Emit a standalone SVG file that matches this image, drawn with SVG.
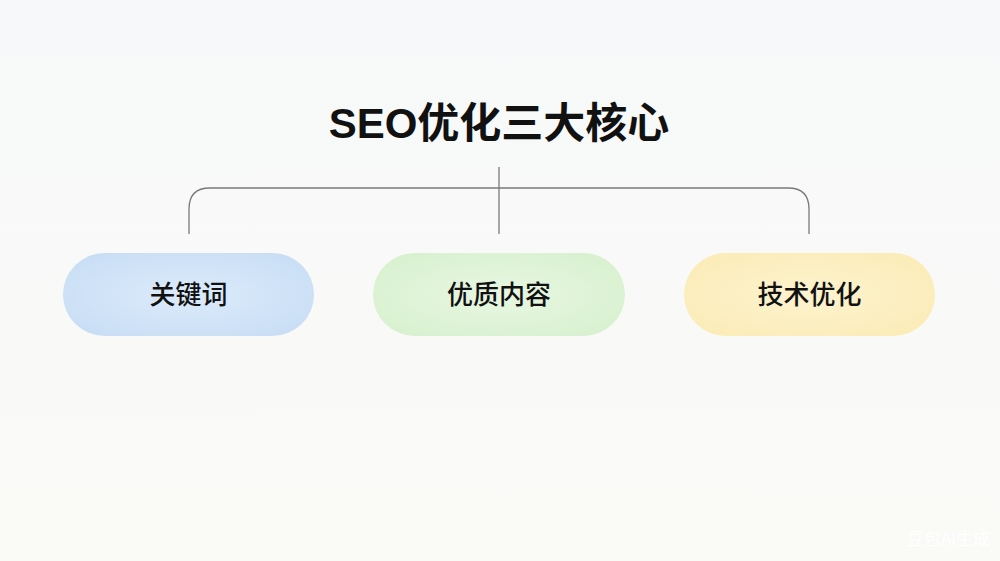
<svg xmlns="http://www.w3.org/2000/svg" width="1000" height="561" viewBox="0 0 1000 561">
<defs>
<style>
.t{font-family:"Noto Sans CJK SC","Liberation Sans",sans-serif;fill:#111;text-anchor:middle}
.title{font-family:"Liberation Sans","Noto Sans CJK SC",sans-serif;font-size:42px;font-weight:700}
.lbl{font-size:26px;font-weight:500}
.conn{fill:none;stroke:#7a7a7a;stroke-width:1.3}
</style>
<radialGradient id="gb" cx="50%" cy="50%" r="60%"><stop offset="0" stop-color="#dcebfb"/><stop offset="1" stop-color="#c9def5"/></radialGradient>
<radialGradient id="gg" cx="50%" cy="50%" r="60%"><stop offset="0" stop-color="#e8f7e2"/><stop offset="1" stop-color="#d9f1d0"/></radialGradient>
<radialGradient id="gy" cx="50%" cy="50%" r="60%"><stop offset="0" stop-color="#fdf3cf"/><stop offset="1" stop-color="#fbecb8"/></radialGradient>
<linearGradient id="bg" x1="0" y1="0" x2="0" y2="1"><stop offset="0" stop-color="#f7f8f9"/><stop offset="1" stop-color="#fafbf7"/></linearGradient>
</defs>
<rect width="1000" height="561" fill="url(#bg)"/>
<text class="t title" x="499" y="138">SEO优化三大核心</text>
<g id="connectors">
<path class="conn" d="M499 167 V234"/>
<path class="conn" d="M189 234 V209 Q189 188 210 188 H788 Q809 188 809 209 V234"/>
</g>
<g id="n1"><rect x="63" y="253" width="251" height="83" rx="41.5" fill="url(#gb)"/><text class="t lbl" x="188.5" y="304">关键词</text></g>
<g id="n2"><rect x="373" y="253" width="252" height="83" rx="41.5" fill="url(#gg)"/><text class="t lbl" x="499" y="304">优质内容</text></g>
<g id="n3"><rect x="684" y="253" width="251" height="83" rx="41.5" fill="url(#gy)"/><text class="t lbl" x="809.5" y="304">技术优化</text></g>
<text x="990" y="545" style="font-family:'Noto Sans CJK SC',sans-serif;font-size:17px;fill:#ffffff;text-anchor:end">豆包AI生成</text>
</svg>
